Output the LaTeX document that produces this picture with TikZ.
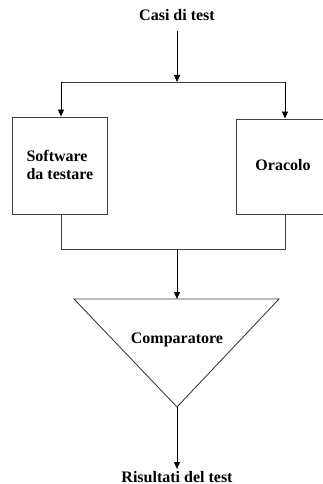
\documentclass[tikz,border=0pt]{standalone}
\usepackage{fontspec}
\setmainfont{Liberation Serif}
\usetikzlibrary{arrows.meta}
\begin{document}
\begin{tikzpicture}[x=1pt,y=-1pt,
  every node/.style={font=\fontsize{16}{18}\selectfont\bfseries, text=black},
  line/.style={draw=black!75, line width=0.9pt},
  arr/.style={draw=black, line width=0.9pt, -{Triangle[length=7pt,width=6pt]}},
  boxnode/.style={line, fill=white, inner sep=0pt}]
\useasboundingbox[fill=white] (0,0) rectangle (323,484);
\begin{scope}
\clip (0,0) rectangle (323,484);
% texts
\node[anchor=base] (casi) at (177,21) {Casi di test};
\node[anchor=base] (ris) at (177,482) {Risultati del test};
% boxes
\node[boxnode, minimum width=95pt, minimum height=97pt] (sw) at (59.5,165.5) {};
\node[boxnode, minimum width=98pt, minimum height=95pt] (or) at (285,166.5) {};
\node[anchor=base west, align=left] (swt) at (23,161) {Software};
\node[anchor=base west] (swt2) at (23,179) {da testare};
\node[anchor=base] (ort) at (283,170) {Oracolo};
% junction coordinates
\coordinate (jt) at (177,82);
\coordinate (jl) at (61,82);
\coordinate (jr) at (285,82);
\coordinate (bl) at (61,249);
\coordinate (br) at (285,249);
\coordinate (bm) at (177,249);
% triangle
\coordinate (tl) at (74,299);
\coordinate (tr) at (279,299);
\coordinate (tm) at (177,299);
\coordinate (ta) at (177,407);
\draw[line] (tl) -- (tr) -- (ta) -- cycle;
\node[anchor=base] (cmp) at (177,343) {Comparatore};
% connectors
\draw[arr] (casi.south |- 0,31) -- (jt);
\draw[line] (jl) -- (jr);
\draw[arr] (jl) -- (jl |- sw.north);
\draw[arr] (jr) -- (jr |- or.north);
\draw[line] (sw.south -| bl) -- (bl) -- (br) -- (or.south -| br);
\draw[arr] (bm) -- (tm);
\draw[arr] (ta) -- (177,469) coordinate (rt);
\end{scope}
\end{tikzpicture}
\end{document}
